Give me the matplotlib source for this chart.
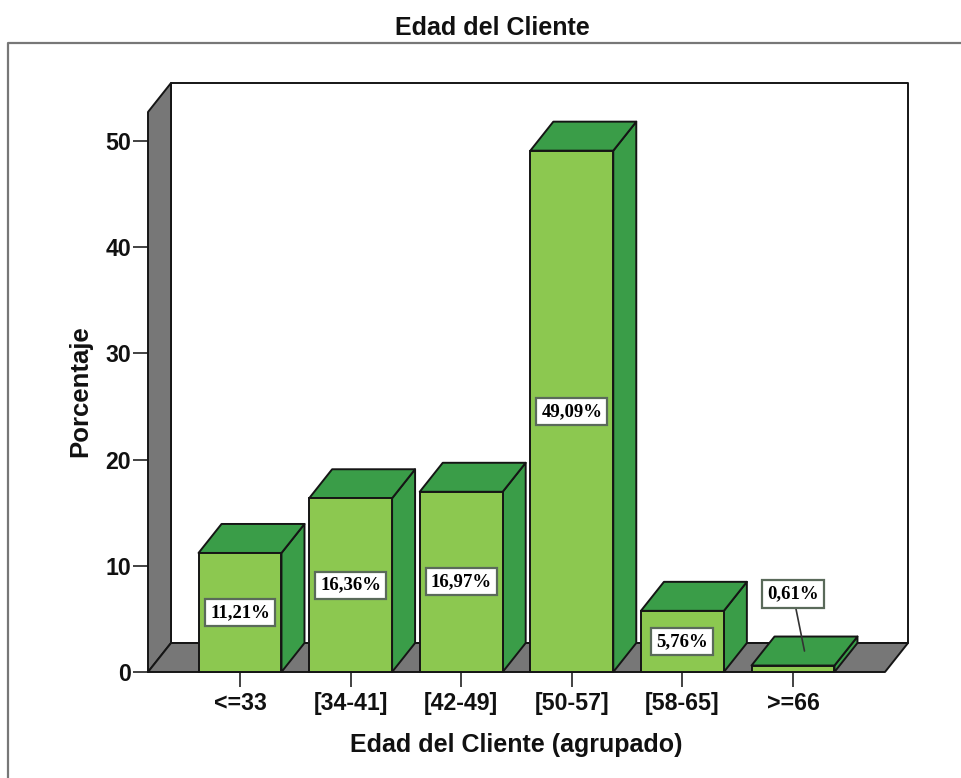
import matplotlib
matplotlib.use("Agg")
import matplotlib.pyplot as plt
from matplotlib.lines import Line2D
from matplotlib.patches import Polygon

categories = ["<=33", "[34-41]", "[42-49]", "[50-57]", "[58-65]", ">=66"]
percentages = [11.21, 16.36, 16.97, 49.09, 5.76, 0.61]
y_ticks = [0, 10, 20, 30, 40, 50]

FRONT = "#8cc850"
SIDE = "#3a9d48"
WALL = "#777777"
EDGE = "#151515"
LW = 1.4

# oblique offset of the fake 3D box, in data units
DX = 0.208
DY = 2.73
BAR_W = 0.75
X_MIN, X_MAX = -0.832, 5.832
Y_MAX = 52.73

plt.rcParams["font.family"] = ["Liberation Sans", "DejaVu Sans"]

W, H = 962, 778
fig = plt.figure(figsize=(W / 100, H / 100), dpi=100)
ax = fig.add_axes([148 / W, (H - 672) / H, (885 - 148) / W, (672 - 112) / H])
ax.set_xlim(X_MIN, X_MAX)
ax.set_ylim(0, Y_MAX)


def box_face(points, color, z):
    ax.add_patch(Polygon(points, closed=True, facecolor=color, edgecolor=EDGE,
                         linewidth=LW, joinstyle="round", clip_on=False, zorder=z))


# back wall, left wall, floor
box_face([(X_MIN + DX, DY), (X_MAX + DX, DY), (X_MAX + DX, Y_MAX + DY), (X_MIN + DX, Y_MAX + DY)], "white", 1)
box_face([(X_MIN, 0), (X_MIN + DX, DY), (X_MIN + DX, Y_MAX + DY), (X_MIN, Y_MAX)], WALL, 2)
box_face([(X_MIN, 0), (X_MAX, 0), (X_MAX + DX, DY), (X_MIN + DX, DY)], WALL, 2)

for i, v in enumerate(percentages):
    x0 = i - BAR_W / 2
    x1 = i + BAR_W / 2
    box_face([(x1, 0), (x1 + DX, DY), (x1 + DX, v + DY), (x1, v)], SIDE, 3)
    box_face([(x0, v), (x1, v), (x1 + DX, v + DY), (x0 + DX, v + DY)], SIDE, 3)

ax.bar(range(len(percentages)), percentages, width=BAR_W, color=FRONT,
       edgecolor=EDGE, linewidth=LW, zorder=4, clip_on=False)

# value labels: centred on the bar, the tiny last one gets a leader line
label_box = dict(boxstyle="square,pad=0.27", facecolor="white", edgecolor="#5a6a5a", linewidth=1.6)
for i, v in enumerate(percentages):
    txt = f"{v:.2f}%".replace(".", ",")
    if v < 1:
        ax.annotate(txt, xy=(i + DX / 2, v + DY / 2), xytext=(i, 7.34),
                    ha="center", va="center", fontsize=13.5, fontweight="bold",
                    family=["Liberation Serif", "DejaVu Serif"], bbox=label_box, zorder=6,
                    arrowprops=dict(arrowstyle="-", color="#333333", lw=1.2, shrinkA=0, shrinkB=0))
    else:
        ax.text(i, v / 2, txt, ha="center", va="center", fontsize=13.5, fontweight="bold",
                family=["Liberation Serif", "DejaVu Serif"], bbox=label_box, zorder=6)

for side in ["top", "right", "left", "bottom"]:
    ax.spines[side].set_visible(False)
ax.patch.set_visible(False)

ax.set_xticks(range(len(categories)))
ax.set_xticklabels(categories, fontsize=16.7, fontweight="bold", color="#111111")
ax.set_yticks(y_ticks)
ax.set_yticklabels([str(t) for t in y_ticks], fontsize=16.7, fontweight="bold", color="#111111")
ax.tick_params(axis="both", length=10.5, width=1.2, color="#222222")
ax.tick_params(axis="x", pad=4)
ax.tick_params(axis="y", pad=1.5)

fig.text(516 / W, 1 - 745 / H, "Edad del Cliente (agrupado)", ha="center", va="center",
         fontsize=18, fontweight="bold", color="#111111")
fig.text(80 / W, 1 - 391 / H, "Porcentaje", ha="center", va="center", rotation=90,
         fontsize=18.5, fontweight="bold", color="#111111")
fig.text(492 / W, 1 - 28 / H, "Edad del Cliente", ha="center", va="center",
         fontsize=18, fontweight="bold", color="#111111")

# outer chart frame, open on the right and bottom edges
fig.add_artist(Line2D([8 / W, 8 / W, 1], [0, 1 - 43 / H, 1 - 43 / H],
                      transform=fig.transFigure, color="#777777", linewidth=1.6))

fig.savefig("out.png", dpi=100)
